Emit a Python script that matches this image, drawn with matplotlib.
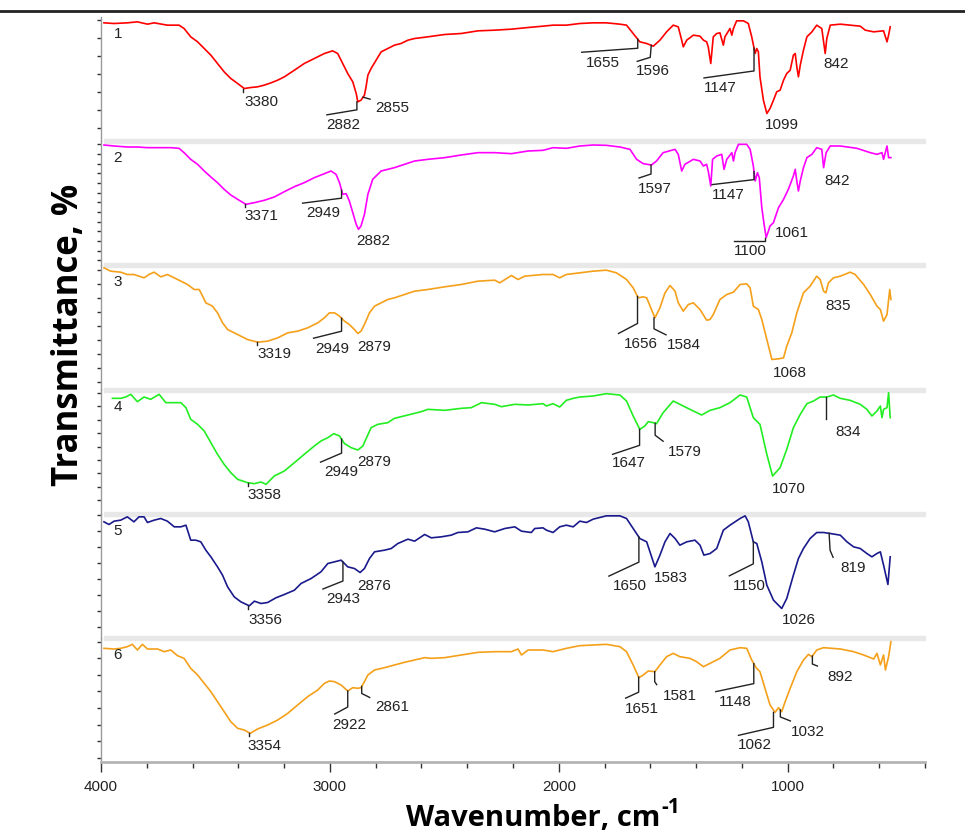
import numpy as np
import matplotlib
matplotlib.use("Agg")
import matplotlib.pyplot as plt
from matplotlib.patches import Rectangle
from matplotlib.lines import Line2D

# ---------------- data (wavenumber, cm-1 / relative transmittance) ----------------
wn1 = [3987, 3943, 3885, 3841, 3797, 3768, 3710, 3659, 3637, 3608, 3578, 3549, 3520, 3491, 3462, 3433, 3403, 3374, 3345, 3316,
       3287, 3257, 3228, 3199, 3155, 3112, 3068, 3024, 2988, 2966, 2944, 2922, 2900, 2885, 2878, 2864, 2849, 2842, 2834, 2820,
       2798, 2776, 2747, 2718, 2689, 2659, 2630, 2572, 2499, 2426, 2353, 2280, 2207, 2134, 2069,
       2025, 1967, 1908, 1850, 1792, 1733, 1704, 1675, 1646, 1616, 1587, 1558, 1529, 1500, 1478, 1463, 1456, 1441, 1412, 1383,
       1368, 1354, 1347, 1336, 1325, 1310, 1296, 1281, 1274, 1252, 1244, 1237, 1223, 1193, 1172, 1157, 1142, 1135, 1128, 1121,
       1106, 1091, 1077, 1062, 1048, 1033, 1018, 1004, 989, 975, 967, 960, 953, 945, 931, 916, 894, 873, 851, 843,
       836, 829, 814, 770, 683, 661, 624, 581, 566, 559, 552]
t1 = [355, 353, 355, 358, 351, 355, 348, 348, 338, 313, 298, 278, 258, 233, 208, 188, 173, 158, 161, 163,
      168, 175, 183, 193, 213, 233, 248, 263, 271, 263, 233, 203, 178, 143, 118, 123, 138, 163, 198, 218,
      243, 268, 278, 288, 293, 303, 308, 313, 320, 323, 331, 333, 336, 341, 345,
      348, 348, 353, 355, 355, 351, 348, 323, 298, 293, 285, 303, 328, 348, 343, 303, 283, 303, 318, 315,
      303, 298, 283, 233, 313, 323, 325, 288, 313, 338, 318, 338, 361, 361, 353, 313, 263, 278, 268, 193,
      123, 83, 98, 123, 148, 153, 183, 203, 213, 258, 263, 223, 193, 228, 273, 313, 328, 348, 338, 298,
      263, 308, 348, 351, 345, 333, 328, 331, 298, 318, 343]

wn2 = [3987, 3943, 3885, 3841, 3797, 3739, 3695, 3659, 3637, 3608, 3578, 3549, 3520, 3491, 3462, 3433, 3403, 3367, 3330, 3287,
       3243, 3199, 3155, 3112, 3068, 3024, 2995, 2973, 2958, 2944, 2929, 2915, 2900, 2885, 2875, 2864, 2849, 2834, 2813, 2776,
       2747, 2718, 2674, 2630, 2572, 2499, 2426, 2353, 2280, 2207, 2134, 2069,
       2025, 1967, 1908, 1850, 1792, 1733, 1689, 1660, 1631, 1595, 1573, 1544, 1492, 1478, 1463, 1449, 1412, 1383, 1368, 1354,
       1347, 1336, 1328, 1310, 1288, 1278, 1266, 1244, 1237, 1230, 1215, 1179, 1164, 1150, 1142, 1132, 1124, 1113, 1103, 1094,
       1084, 1077, 1062, 1055, 1040, 1018, 997, 975, 967, 960, 953, 945, 931, 916, 894, 873, 851, 843, 832, 814,
       770, 697, 639, 610, 588, 581, 566, 559, 549]
t2 = [361, 358, 355, 355, 353, 353, 353, 351, 338, 318, 303, 283, 265, 248, 228, 211, 198, 183, 188, 195,
      205, 221, 236, 248, 263, 275, 283, 273, 248, 213, 215, 193, 158, 123, 108, 118, 153, 213, 258, 283,
      288, 293, 303, 313, 318, 323, 331, 338, 338, 335, 343, 345,
      353, 351, 358, 361, 360, 355, 348, 318, 305, 301, 313, 338, 348, 333, 283, 303, 318, 313, 298, 303,
      283, 238, 318, 328, 333, 288, 318, 338, 313, 338, 363, 363, 348, 298, 253, 278, 263, 173, 123, 83,
      103, 118, 128, 143, 173, 198, 228, 268, 288, 253, 223, 253, 293, 323, 333, 353, 348, 293, 338, 358,
      358, 351, 338, 333, 338, 318, 358, 323, 323]

wn3 = [3987, 3958, 3914, 3885, 3856, 3812, 3790, 3768, 3739, 3710, 3680, 3651, 3622, 3593, 3571, 3556, 3542, 3513, 3491, 3469,
       3447, 3418, 3389, 3360, 3316, 3272, 3228, 3184, 3141, 3097, 3053, 3024, 3002, 2980, 2958, 2936, 2915, 2893, 2878, 2864,
       2849, 2827, 2805, 2776, 2747, 2718, 2674, 2630, 2572, 2499, 2426, 2353, 2280, 2258, 2207, 2178, 2149, 2069,
       2025, 1996, 1967, 1908, 1850, 1792, 1748, 1704, 1675, 1653, 1631, 1616, 1595, 1580, 1558, 1536, 1514, 1492, 1478, 1456,
       1434, 1412, 1383, 1354, 1339, 1325, 1296, 1266, 1237, 1208, 1179, 1164, 1150, 1128, 1113, 1091, 1069, 1040, 1018, 1004,
       982, 960, 931, 902, 873, 858, 843, 833, 822, 800, 770, 727, 705, 668, 639, 610, 595, 581, 566, 554, 549]
t3 = [365, 355, 352, 345, 345, 335, 345, 352, 338, 345, 335, 325, 315, 300, 300, 280, 260, 250, 230, 200,
      180, 170, 160, 150, 142, 145, 155, 170, 175, 185, 200, 215, 230, 230, 220, 205, 195, 180, 168, 175,
      195, 230, 250, 260, 270, 275, 285, 295, 300, 308, 315, 325, 328, 320, 342, 330, 340, 345,
      345, 335, 345, 350, 355, 358, 350, 330, 305, 275, 278, 275, 240, 215, 245, 290, 312, 295, 260, 235,
      255, 260, 240, 208, 210, 225, 270, 285, 292, 315, 317, 305, 250, 240, 210, 150, 90, 92, 95, 130,
      170, 230, 290, 310, 340, 330, 295, 290, 320, 335, 340, 352, 345, 315, 285, 250, 240, 205, 225, 300, 270]

wn4 = [3950, 3914, 3892, 3870, 3841, 3812, 3783, 3746, 3717, 3680, 3651, 3629, 3608, 3578, 3549, 3520, 3491, 3462, 3433, 3403,
       3360, 3330, 3301, 3279, 3243, 3199, 3155, 3112, 3068, 3039, 3009, 2983, 2958, 2936, 2907, 2878, 2856, 2820, 2791, 2747,
       2718, 2659, 2601, 2572, 2499, 2426, 2382, 2338, 2280, 2251, 2192, 2134, 2069,
       2054, 2025, 1996, 1967, 1937, 1908, 1850, 1792, 1733, 1704, 1675, 1646, 1624, 1609, 1587, 1573, 1544, 1500, 1471, 1427,
       1376, 1339, 1296, 1252, 1208, 1179, 1150, 1121, 1091, 1066, 1033, 1004, 975, 945, 916, 887, 858, 829, 800, 770,
       727, 683, 654, 632, 610, 595, 588, 581, 566, 559, 552]
t4 = [346, 346, 350, 358, 336, 350, 343, 358, 333, 333, 333, 318, 283, 268, 248, 213, 178, 148, 123, 103,
      93, 90, 95, 88, 113, 128, 153, 178, 203, 218, 228, 240, 233, 210, 198, 191, 203, 258, 268, 273,
      286, 296, 306, 313, 310, 316, 318, 333, 328, 321, 328, 326, 330,
      323, 330, 320, 340, 346, 350, 353, 360, 356, 338, 293, 253, 263, 276, 273, 270, 303, 338, 328, 313,
      296, 310, 318, 333, 356, 350, 288, 268, 178, 113, 138, 193, 258, 298, 330, 338, 350, 350, 356, 346,
      340, 328, 313, 293, 308, 323, 288, 313, 318, 363, 288]

wn5 = [3987, 3965, 3943, 3914, 3885, 3856, 3834, 3812, 3797, 3768, 3739, 3710, 3680, 3651, 3629, 3608, 3586, 3564, 3542, 3520,
       3491, 3469, 3447, 3418, 3389, 3352, 3330, 3301, 3272, 3236, 3199, 3155, 3126, 3082, 3039, 3009, 2980, 2951, 2922, 2893,
       2868, 2849, 2827, 2805, 2761, 2732, 2703, 2659, 2630, 2586, 2557, 2513, 2470, 2441, 2397, 2360, 2324, 2280, 2236, 2192,
       2163, 2120, 2105, 2069,
       2054, 2025, 1996, 1967, 1937, 1908, 1879, 1850, 1792, 1733, 1704, 1675, 1646, 1616, 1580, 1558, 1536, 1514, 1492, 1471,
       1441, 1405, 1383, 1366, 1339, 1310, 1281, 1252, 1208, 1186, 1172, 1150, 1135, 1113, 1091, 1062, 1026, 1004, 975, 953,
       931, 902, 873, 843, 814, 770, 741, 712, 683, 654, 632, 610, 595, 581, 562, 552]
t5 = [348, 340, 350, 353, 363, 348, 363, 363, 346, 353, 358, 350, 333, 333, 338, 293, 293, 288, 263, 243,
      213, 188, 153, 123, 108, 96, 110, 103, 106, 120, 130, 143, 163, 178, 198, 223, 228, 233, 213, 208,
      196, 208, 238, 258, 263, 268, 283, 296, 290, 310, 300, 303, 308, 316, 318, 330, 326, 318, 328, 333,
      320, 316, 328, 330,
      323, 316, 333, 338, 333, 350, 346, 356, 366, 366, 358, 328, 298, 288, 213, 248, 288, 313, 298, 278,
      288, 293, 278, 248, 253, 268, 323, 338, 358, 366, 348, 288, 283, 228, 158, 113, 88, 118, 188, 238,
      268, 298, 316, 316, 313, 308, 288, 273, 268, 253, 243, 253, 258, 218, 160, 243]

wn6 = [3987, 3943, 3914, 3885, 3863, 3841, 3819, 3797, 3753, 3724, 3695, 3666, 3637, 3608, 3578, 3549, 3520, 3491, 3462, 3433,
       3403, 3374, 3348, 3316, 3272, 3228, 3184, 3141, 3097, 3053, 3024, 3002, 2980, 2951, 2922, 2900, 2878, 2864, 2849, 2834,
       2805, 2761, 2718, 2674, 2630, 2586, 2557, 2499, 2426, 2353, 2280, 2207, 2178, 2163, 2134, 2069,
       2025, 1967, 1908, 1850, 1792, 1733, 1704, 1675, 1650, 1631, 1609, 1580, 1558, 1529, 1500, 1471, 1427, 1398, 1368, 1339,
       1296, 1252, 1208, 1179, 1157, 1138, 1121, 1099, 1077, 1055, 1040, 1026, 1011, 989, 960, 931, 909, 894, 873, 843,
       770, 712, 668, 624, 610, 595, 581, 573, 559, 549]
t6 = [341, 339, 341, 346, 353, 336, 353, 339, 339, 331, 336, 319, 311, 281, 261, 236, 211, 181, 151, 121,
      101, 96, 86, 99, 111, 126, 146, 171, 196, 216, 236, 243, 241, 231, 213, 223, 221, 223, 241, 261,
      276, 283, 291, 299, 306, 313, 311, 313, 321, 329, 331, 331, 339, 321, 336, 336,
      331, 341, 349, 351, 353, 346, 331, 291, 253, 261, 273, 271, 291, 316, 326, 316, 311, 301, 286, 296,
      311, 336, 343, 341, 306, 283, 271, 221, 171, 149, 163, 151, 181, 221, 271, 306, 323, 316, 336, 343,
      339, 331, 321, 309, 326, 291, 321, 276, 316, 361]

sample_names = ["1", "2", "3", "4", "5", "6"]

peaks1 = [3380, 2882, 2855, 1655, 1596, 1147, 1099, 842]
peaks2 = [3371, 2949, 2882, 1597, 1147, 1100, 1061, 842]
peaks3 = [3319, 2949, 2879, 1656, 1584, 1068, 835]
peaks4 = [3358, 2949, 2879, 1647, 1579, 1070, 834]
peaks5 = [3356, 2943, 2876, 1650, 1583, 1150, 1026, 819]
peaks6 = [3354, 2922, 2861, 1651, 1581, 1148, 1062, 1032, 892]

x_major = [4000, 3000, 2000, 1000]

# ---------------- layout / style ----------------
# per-peak leader geometry: (leader path offsets px, text-centre offset px, search window)
lay1 = [([(0, 0), (0, 3)], (19, 13), 20), ([(0, 0), (0, 8), (-30, 13)], (-14, 23), 12),
        ([(0, 0), (7, 2)], (29, 11), 0), ([(0, 0), (0, 9), (-56, 13)], (-35, 24), 0),
        ([(0, 0), (-1, 12), (-14, 16)], (2, 26), 6), ([(0, 0), (0, 23), (-50, 30)], (-34, 40), 0),
        ([], (17, 11), 15), ([], (12, 11), 10)]
lay2 = [([(0, 0), (0, 3)], (16, 12), 10), ([(0, 0), (0, 8), (-39, 13)], (-18, 23), 0),
        ([], (16, 12), 12), ([(0, 0), (0, 9), (-12, 13)], (4, 24), 6),
        ([(0, 0), (0, 8), (-42, 13)], (-26, 23), 0), ([(0, 0), (0, 3), (-31, 3)], (-14, 13), 10),
        ([], (18, 11), 0), ([], (13, 13), 10)]
lay3 = [([(0, 0), (0, 3)], (18, 12), 20), ([(0, 0), (0, 13), (-28, 20)], (-9, 31), 0),
        ([], (17, 13), 15), ([(0, 0), (0, 27), (-19, 37)], (3, 48), 0),
        ([(0, 0), (0, 11), (12, 17)], (30, 27), 10), ([], (18, 13), 20), ([], (13, 13), 10)]
lay4 = [([(0, 0), (0, 3)], (17, 12), 20), ([(0, 0), (0, 14), (-21, 23)], (0, 33), 0),
        ([], (17, 12), 15), ([(0, 0), (0, 16), (-27, 25)], (-11, 34), 5),
        ([(0, 0), (0, 12), (8, 18)], (30, 29), 0), ([], (17, 13), 15),
        ([(0, 0), (0, 22)], (22, 35), 0)]
lay5 = [([(0, 0), (0, 3)], (17, 14), 10), ([(0, 0), (0, 19), (-20, 27)], (0, 37), 0),
        ([], (16, 13), 15), ([(0, 0), (0, 25), (-30, 39)], (-9, 49), 0),
        ([], (17, 11), 10), ([(0, 0), (0, 22), (-24, 34)], (-4, 44), 0),
        ([], (17, 12), 10), ([(0, 0), (1, 17), (4, 24)], (24, 35), 0)]
lay6 = [([(0, 0), (0, 3)], (16, 13), 10), ([(0, 0), (0, 16), (-13, 23)], (2, 34), 0),
        ([(0, 0), (0, 7), (8, 11)], (31, 21), 0), ([(0, 0), (0, 15), (-13, 21)], (3, 32), 0),
        ([(0, 0), (0, 10), (2, 13)], (25, 24), 0), ([(0, 0), (0, 20), (-38, 28)], (-18, 38), 0),
        ([(0, 0), (0, 15), (-35, 23)], (-19, 33), 10), ([(0, 0), (0, 7), (10, 11)], (28, 22), 0),
        ([(0, 0), (0, 8), (5, 10)], (28, 21), 0)]

spectra = [(wn1, t1), (wn2, t2), (wn3, t3), (wn4, t4), (wn5, t5), (wn6, t6)]
peaks = [peaks1, peaks2, peaks3, peaks4, peaks5, peaks6]
lays = [lay1, lay2, lay3, lay4, lay5, lay6]
colors = ['#ff0000', '#ff00ff', '#f5a01a', '#22ee22', '#1a1a8c', '#f5a01a']
tick_specs = [(363, 54), (363, 29), (360, 42.3), (363, 40.4), (368, 47.8), (361, 49.7)]

W, H = 965, 836
fig = plt.figure(figsize=(W / 100, H / 100), dpi=100)
fig.patch.set_facecolor('white')
FONT = ['Liberation Sans', 'DejaVu Sans']
TFONT = ['Open Sans', 'DejaVu Sans']

X0, X1 = 101, 925
TOP, BOT = 17, 762
PH = (BOT - TOP) / 6.0

axes = []
for i, (wn, t) in enumerate(spectra):
    top = TOP + i * PH
    ax = fig.add_axes([X0 / W, 1 - (top + PH) / H, (X1 - X0) / W, PH / H])
    ax.set_facecolor('none')
    ax.plot(wn, t, color=colors[i], lw=1.2, zorder=3)
    ax.set_xlim(4000, 400)
    ax.set_ylim(0, PH * 3)
    for s in ['top', 'right', 'bottom']:
        ax.spines[s].set_visible(False)
    ax.spines['left'].set_color('#9a9a9a')
    ax.spines['left'].set_linewidth(1.0)
    start, step = tick_specs[i]
    ax.set_yticks(np.arange(start, 0, -step))
    ax.tick_params(axis='y', length=3, width=1, color='#333333', labelleft=False)
    if i < 5:
        ax.tick_params(axis='x', which='both', bottom=False, labelbottom=False)
    else:
        ax.spines['bottom'].set_visible(True)
        ax.spines['bottom'].set_color('#b4b4b4')
        ax.spines['bottom'].set_linewidth(2)
        ax.set_xticks(x_major)
        ax.set_xticklabels([str(v) for v in x_major])
        ax.set_xticks(np.arange(4000, 399, -200), minor=True)
        ax.tick_params(axis='x', which='major', length=7, width=1, color='#333333',
                       labelsize=11, pad=6, labelcolor='#222222')
        ax.tick_params(axis='x', which='minor', length=4, width=1, color='#333333')
        for lab in ax.get_xticklabels():
            lab.set_fontfamily(FONT)
    axes.append(ax)
    fig.text(118 / W, 1 - (top + 17) / H, sample_names[i], ha='center', va='center',
             fontsize=11, family=FONT, color='#222222')

# light grey separators between panels
for i in range(1, 6):
    y = TOP + i * PH
    fig.add_artist(Rectangle((104 / W, 1 - (y + 2) / H), (X1 - 104) / W, 4 / H,
                             transform=fig.transFigure, color='#e8e8e8', zorder=-1))

# dark rule along the top edge
fig.add_artist(Line2D([0, 1], [1 - 11 / H, 1 - 11 / H], transform=fig.transFigure,
                      color='#222222', lw=2))

# peak annotations with leader lines
for i, ax in enumerate(axes):
    wn_a = np.array(spectra[i][0], float)
    t_a = np.array(spectra[i][1], float)
    order = np.argsort(wn_a)
    for pk, (path, toff, win) in zip(peaks[i], lays[i]):
        y = np.interp(pk, wn_a[order], t_a[order])
        if win > 0:
            m = np.abs(wn_a - pk) <= win
            if m.any():
                y = min(y, t_a[m].min())
        dx, dy = ax.transData.transform((pk, y))
        if path:
            xs = [(dx + p[0]) / W for p in path]
            ys = [(dy - p[1]) / H for p in path]
            fig.add_artist(Line2D(xs, ys, transform=fig.transFigure, color='#222222', lw=1.0))
        fig.text((dx + toff[0]) / W, (dy - toff[1]) / H, str(pk), ha='center', va='center',
                 fontsize=11, family=FONT, color='#222222')

# axis titles
fig.text(69 / W, 1 - 335 / H, 'Transmittance, %', rotation=90, ha='center', va='center',
         fontsize=25, fontweight='bold', family=TFONT)
xl = fig.text(406 / W, 1 - 818 / H, 'Wavenumber, cm', ha='left', va='center',
              fontsize=21, fontweight='bold', family=TFONT)
r = fig.canvas.get_renderer()
bb = xl.get_window_extent(renderer=r)
fig.text((bb.x1 + 1) / W, (bb.y1 - 4) / H, '-1', ha='left', va='center',
         fontsize=15, fontweight='bold', family=TFONT)

fig.savefig('out.png', dpi=100)
